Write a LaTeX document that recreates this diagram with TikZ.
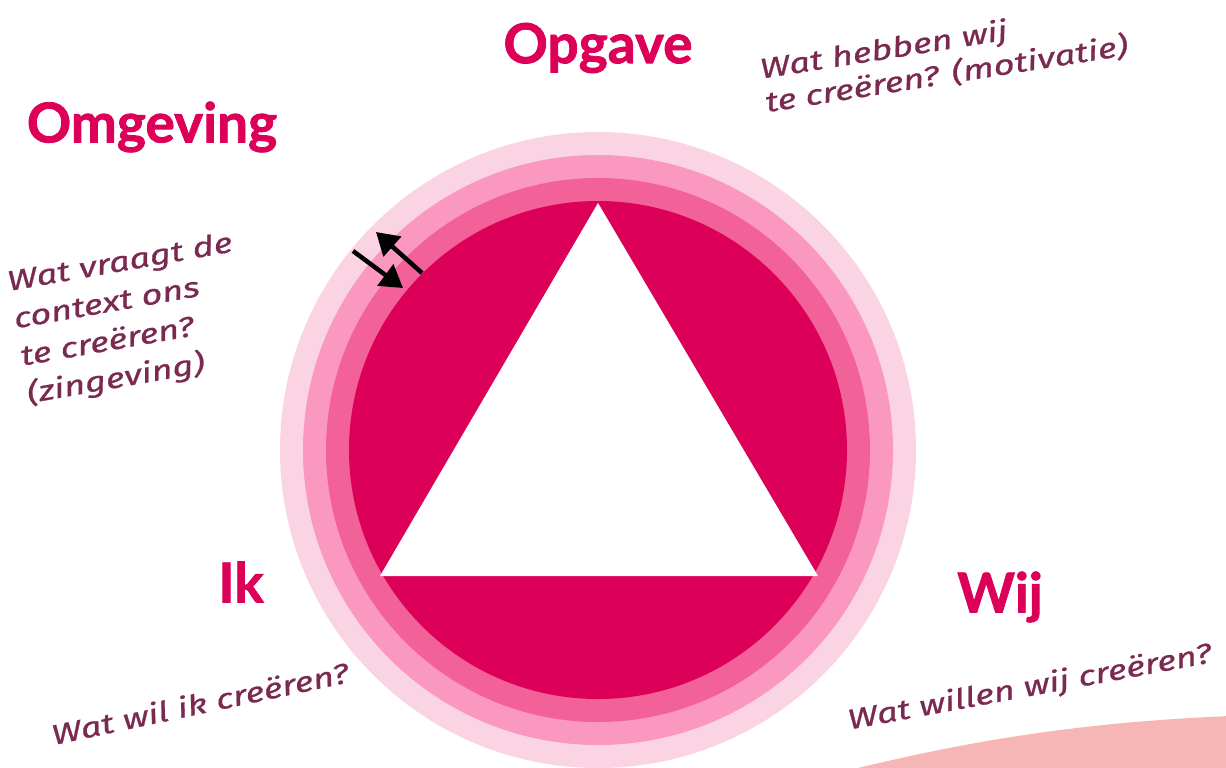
\documentclass[tikz,border=0pt]{standalone}
\usepackage{fontspec}
\setmainfont{Lato}[BoldFeatures={FakeBold=1.5}]
\newfontfamily\handfont{Fira Sans}[FakeStretch=1.3, ItalicFeatures={FakeBold=0.8}]
\usetikzlibrary{arrows.meta}
\definecolor{magdark}{RGB}{220,0,88}
\definecolor{ringA}{RGB}{242,98,152}
\definecolor{ringB}{RGB}{250,152,192}
\definecolor{ringC}{RGB}{250,212,226}
\definecolor{hand}{RGB}{122,42,80}
\definecolor{salmon}{RGB}{246,182,182}
\tikzset{
  head/.style={font=\fontsize{55}{58}\selectfont\bfseries, text=magdark, inner sep=0pt},
  note/.style={font=\handfont\itshape\fontsize{28}{34}\selectfont, text=hand, align=left, inner sep=0pt},
  arr/.style={line width=4.5pt, -{Triangle[length=22pt,width=26pt]}},
}
\begin{document}
\begin{tikzpicture}[x=1pt,y=-1pt]
\useasboundingbox (0,0) rectangle (1226,768);
\begin{scope}
\clip (0,0) rectangle (1226,768);
\fill[salmon] (850,770) .. controls (980,738) and (1090,722) .. (1230,716) -- (1230,770) -- cycle;
\coordinate (c) at (598,450);
\fill[ringC] (c) circle[radius=318pt];
\fill[ringB] (c) circle[radius=295pt];
\fill[ringA] (c) circle[radius=272pt];
\fill[magdark] (c) circle[radius=249pt];
\end{scope}
\coordinate (t1) at (598,203);
\coordinate (t2) at (380,576);
\coordinate (t3) at (818,576);
\fill[white] (t1) -- (t2) -- (t3) -- cycle;
\coordinate (a1s) at (353,251);
\coordinate (a1e) at (403,288);
\coordinate (a2s) at (422,273);
\coordinate (a2e) at (376,232);
\draw[arr] (a1s) -- (a1e);
\draw[arr] (a2s) -- (a2e);
\node[head] (opg) at (598,48) {Opgave};
\node[head] (omg) at (152,127) {Omgeving};
\node[head] (ik) at (241,582) {Ik};
\node[head] (wij) at (1000,597) {Wij};
\node[note, rotate=9] (n1) at (944,58) {Wat hebben wij\\te creëren? (motivatie)};
\node[note, rotate=10, font=\handfont\itshape\fontsize{28}{38}\selectfont] (n2) at (130,320) {Wat vraagt de\\context ons\\te creëren?\\(zingeving)};
\node[note, rotate=12] (n3) at (200,703) {Wat wil ik creëren?};
\node[note, rotate=10.5] (n4) at (1030,688) {Wat willen wij creëren?};
\end{tikzpicture}
\end{document}
